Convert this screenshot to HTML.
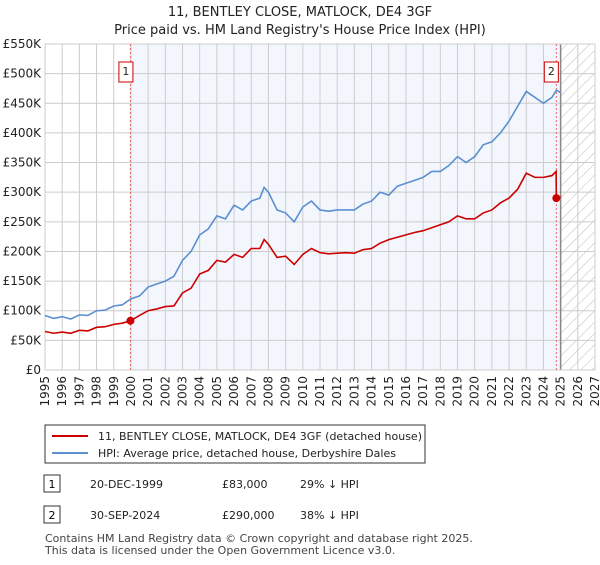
<!DOCTYPE html>
<html><head><meta charset="utf-8"><style>
body{margin:0;background:#fff;font-family:"Liberation Sans","DejaVu Sans",sans-serif;}
svg text{font-family:"DejaVu Sans","Liberation Sans",sans-serif;}
</style></head><body>
<svg width="600" height="560" viewBox="0 0 600 560">
<defs><pattern id="hatch" width="8" height="8" patternUnits="userSpaceOnUse" patternTransform="rotate(45)"><line x1="0" y1="0" x2="0" y2="8" stroke="#bbb" stroke-width="1"/></pattern></defs>
<text x="300" y="16" text-anchor="middle" font-size="13" fill="#222">11, BENTLEY CLOSE, MATLOCK, DE4 3GF</text>
<text x="300" y="34" text-anchor="middle" font-size="13" fill="#222">Price paid vs. HM Land Registry's House Price Index (HPI)</text>
<g id="plot"></g>
<g>
<rect x="45" y="425" width="380" height="38" fill="#fff" stroke="#333" stroke-width="1"/>
<line x1="52" y1="436" x2="88" y2="436" stroke="#cc0000" stroke-width="2"/>
<text x="98" y="440" font-size="11" fill="#222">11, BENTLEY CLOSE, MATLOCK, DE4 3GF (detached house)</text>
<line x1="52" y1="453" x2="88" y2="453" stroke="#5b8fd0" stroke-width="2"/>
<text x="98" y="457" font-size="11" fill="#222">HPI: Average price, detached house, Derbyshire Dales</text>
</g>
<g>
<rect x="44" y="475" width="16" height="17" fill="#fff" stroke="#333"/><text x="52" y="488" text-anchor="middle" font-size="11">1</text>
<text x="90" y="488" font-size="11" fill="#222">20-DEC-1999</text>
<text x="222" y="488" font-size="11" fill="#222">£83,000</text>
<text x="300" y="488" font-size="11" fill="#222">29% ↓ HPI</text>
</g>
<g>
<rect x="44" y="506" width="16" height="17" fill="#fff" stroke="#333"/><text x="52" y="519" text-anchor="middle" font-size="11">2</text>
<text x="90" y="519" font-size="11" fill="#222">30-SEP-2024</text>
<text x="222" y="519" font-size="11" fill="#222">£290,000</text>
<text x="300" y="519" font-size="11" fill="#222">38% ↓ HPI</text>
</g>
<text x="45" y="542" font-size="11" fill="#444">Contains HM Land Registry data © Crown copyright and database right 2025.</text>
<text x="45" y="554" font-size="11" fill="#444">This data is licensed under the Open Government Licence v3.0.</text>
</svg>
<script>
const yTicks=[0,50,100,150,200,250,300,350,400,450,500,550];
const yTickLabels=["£0","£50K","£100K","£150K","£200K","£250K","£300K","£350K","£400K","£450K","£500K","£550K"];
const xYears=[1995,1996,1997,1998,1999,2000,2001,2002,2003,2004,2005,2006,2007,2008,2009,2010,2011,2012,2013,2014,2015,2016,2017,2018,2019,2020,2021,2022,2023,2024,2025,2026,2027];
const hpiDates=[1995,1995.5,1996,1996.5,1997,1997.5,1998,1998.5,1999,1999.5,2000,2000.5,2001,2001.5,2002,2002.5,2003,2003.5,2004,2004.5,2005,2005.5,2006,2006.5,2007,2007.5,2007.75,2008,2008.5,2009,2009.5,2010,2010.5,2011,2011.5,2012,2012.5,2013,2013.5,2014,2014.5,2015,2015.5,2016,2016.5,2017,2017.5,2018,2018.5,2019,2019.5,2020,2020.5,2021,2021.5,2022,2022.5,2023,2023.5,2024,2024.5,2024.75,2025];
const hpiValues=[92,87,90,86,93,92,100,101,108,110,120,125,140,145,150,158,185,200,228,238,260,255,278,270,285,290,308,300,270,265,250,275,285,270,268,270,270,270,280,285,300,295,310,315,320,325,335,335,345,360,350,360,380,385,400,420,445,470,460,450,460,472,468];
const priceDates=[1995,1995.5,1996,1996.5,1997,1997.5,1998,1998.5,1999,1999.5,1999.97,2000.5,2001,2001.5,2002,2002.5,2003,2003.5,2004,2004.5,2005,2005.5,2006,2006.5,2007,2007.5,2007.75,2008,2008.5,2009,2009.5,2010,2010.5,2011,2011.5,2012,2012.5,2013,2013.5,2014,2014.5,2015,2015.5,2016,2016.5,2017,2017.5,2018,2018.5,2019,2019.5,2020,2020.5,2021,2021.5,2022,2022.5,2023,2023.5,2024,2024.5,2024.74,2024.75,2025];
const priceValues=[65,62,64,62,67,66,72,73,77,79,83,92,100,103,107,108,130,138,162,168,185,182,195,190,205,205,220,212,190,192,178,195,205,198,196,197,198,197,203,205,214,220,224,228,232,235,240,245,250,260,255,255,265,270,282,290,305,332,325,325,328,335,290,292];
const sales=[{d:1999.97,v:83,n:"1"},{d:2024.75,v:290,n:"2"}];
const X0=45,X1=595,Y0=370,Y1=44;
const xs=d=>X0+(d-1995)/(2027-1995)*(X1-X0);
const ys=v=>Y0-v/550*(Y0-Y1);
const NS="http://www.w3.org/2000/svg";
const g=document.getElementById('plot');
function mk(t,a,p){const e=document.createElementNS(NS,t);for(const k in a)e.setAttribute(k,a[k]);(p||g).appendChild(e);return e;}
mk('rect',{x:X0,y:Y1,width:X1-X0,height:Y0-Y1,fill:'#fff'});
const shade=mk('rect',{x:xs(1999.97),y:Y1,width:xs(2025)-xs(1999.97),height:Y0-Y1,fill:'#eef3fc',opacity:0.7});


const hatch=mk('rect',{x:xs(2025),y:Y1,width:X1-xs(2025),height:Y0-Y1,fill:'url(#hatch)'});


yTicks.forEach((t,i)=>{
 mk('line',{x1:X0,x2:X1,y1:ys(t),y2:ys(t),stroke:'#ccc','stroke-width':1});
 const tx=mk('text',{x:X0-4,y:ys(t)+4,'text-anchor':'end','font-size':12,fill:'#222'});
 tx.textContent=yTickLabels[i];
 
 
});
xYears.forEach(yr=>{
 mk('line',{x1:xs(yr),x2:xs(yr),y1:Y1,y2:Y0,stroke:'#ccc','stroke-width':1});
 const tx=mk('text',{x:xs(yr)+4,y:Y0+6,'text-anchor':'end','font-size':12,fill:'#222',transform:`rotate(-90 ${xs(yr)+4} ${Y0+6})`});
 tx.textContent=yr;
 
 
});
mk('line',{x1:xs(2025),x2:xs(2025),y1:Y1,y2:Y0,stroke:'#888','stroke-width':1.5});
mk('rect',{x:X0,y:Y1,width:X1-X0,height:Y0-Y1,fill:'none',stroke:'#ccc'});
sales.forEach(s=>{
 const l=mk('line',{x1:xs(s.d),x2:xs(s.d),y1:Y1,y2:Y0,stroke:'#e66','stroke-width':1,'stroke-dasharray':'2,2'});
 
 
});
const hp=mk('polyline',{points:hpiDates.map((d,i)=>xs(d)+','+ys(hpiValues[i])).join(' '),fill:'none',stroke:'#5b8fd0','stroke-width':1.6});


const pp=mk('polyline',{points:priceDates.map((d,i)=>xs(d)+','+ys(priceValues[i])).join(' '),fill:'none',stroke:'#cc0000','stroke-width':1.6});


sales.forEach(s=>{
 const c=mk('circle',{cx:xs(s.d),cy:ys(s.v),r:4,fill:'#cc0000'});
 
 
 const bx=xs(s.d)-(s.n==="2"?5:4.5);
 const b=mk('rect',{x:bx-7,y:62,width:14,height:20,fill:'#fff',stroke:'#cc0000'});
 
 
 const t=mk('text',{x:bx,y:75,'text-anchor':'middle','font-size':11,fill:'#222'});
 t.textContent=s.n;
});
</script>
</body></html>
